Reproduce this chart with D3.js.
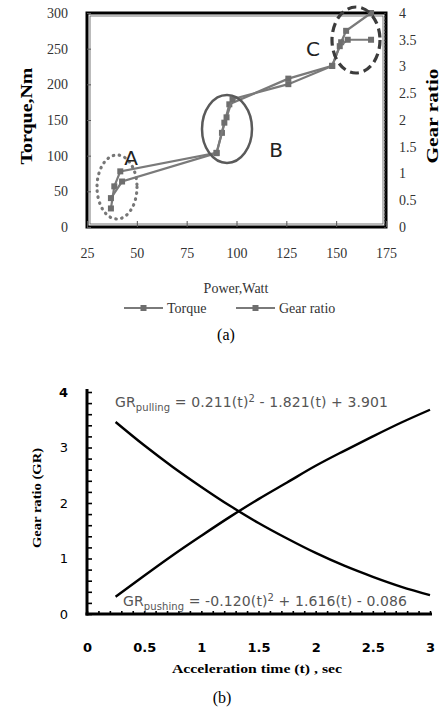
<!DOCTYPE html>
<html>
<head>
<meta charset="utf-8">
<title>Torque and gear ratio</title>
<script src="https://d3js.org/d3.v7.min.js"></script>
<style>
  body { margin: 0; background: #fff; }
  svg { display: block; }
  .serif { font-family: "Liberation Serif", "DejaVu Serif", serif; }
  .sans { font-family: "DejaVu Sans", Verdana, sans-serif; }
  .domain { display: none; }
</style>
</head>
<body>
<div id="chart"></div>
<script>
// ---- chart (a) : torque / gear ratio vs power ----
var torquePower = [37, 38.7, 41.7, 90, 92.7, 96.4, 126, 148, 152.5, 155, 167.5];
var torqueNm    = [26, 57, 78, 104, 132, 172, 208, 226, 259, 275, 300];
var gearPower   = [37, 42.6, 90, 93.9, 95, 98, 126, 148, 151.8, 155.8, 167.5];
var gearRatio   = [0.54, 0.85, 1.38, 1.95, 2.05, 2.39, 2.67, 3.01, 3.38, 3.5, 3.5];
var powerTicks  = [25, 50, 75, 100, 125, 150, 175];
var torqueTicks = [0, 50, 100, 150, 200, 250, 300];
var ratioTicks  = [0, 0.5, 1, 1.5, 2, 2.5, 3, 3.5, 4];

// ---- chart (b) : gear ratio vs acceleration time ----
var accelTime = [0.25, 0.5, 0.75, 1, 1.25, 1.5, 1.75, 2, 2.25, 2.5, 2.75, 3];
var grPulling = [3.46, 3.04, 2.65, 2.29, 1.95, 1.64, 1.36, 1.10, 0.87, 0.67, 0.49, 0.34];
var grPushing = [0.31, 0.69, 1.06, 1.41, 1.75, 2.07, 2.37, 2.67, 2.94, 3.20, 3.45, 3.68];
var timeTicks = [0, 0.5, 1, 1.5, 2, 2.5, 3];
var grTicks   = [0, 1, 2, 3, 4];

var plain = function(d) { return String(d); };

var svg = d3.select("#chart").append("svg")
  .attr("width", 444).attr("height", 717)
  .style("background", "#fff");

/* ================= (a) ================= */
var a = { left: 87, right: 386, top: 13, bottom: 227 };
var xP = d3.scaleLinear().domain([25, 175]).range([a.left, a.right]);
var yT = d3.scaleLinear().domain([0, 300]).range([a.bottom, a.top]);
var yG = d3.scaleLinear().domain([0, 4]).range([a.bottom, a.top]);

var ga = svg.append("g");

// frame (double line look)
ga.append("rect")
  .attr("x", a.left).attr("y", a.top)
  .attr("width", a.right - a.left).attr("height", a.bottom - a.top)
  .attr("fill", "none").attr("stroke", "#000").attr("stroke-width", 3);
ga.append("rect")
  .attr("x", a.left + 3).attr("y", a.top + 3)
  .attr("width", a.right - a.left - 6).attr("height", a.bottom - a.top - 6)
  .attr("fill", "none").attr("stroke", "#555").attr("stroke-width", 0.8);

// inner ticks
ga.append("g").attr("transform", "translate(" + a.left + ",0)")
  .call(d3.axisLeft(yT).tickValues(torqueTicks).tickSize(-4).tickFormat(""))
  .selectAll("line").attr("stroke", "#555");
ga.append("g").attr("transform", "translate(0," + a.bottom + ")")
  .call(d3.axisBottom(xP).tickValues(powerTicks).tickSize(-6).tickFormat(""))
  .selectAll("line").attr("stroke", "#555");
ga.append("g").attr("transform", "translate(" + a.right + ",0)")
  .call(d3.axisRight(yG).tickValues(d3.range(0, 4.001, 1 / 16)).tickSize(-2).tickFormat(""))
  .selectAll("line").attr("stroke", "#333");

// labels
var la = ga.append("g").attr("transform", "translate(" + a.left + ",0)")
  .call(d3.axisLeft(yT).tickValues(torqueTicks).tickSize(0).tickPadding(19).tickFormat(plain));
var ra = ga.append("g").attr("transform", "translate(" + a.right + ",0)")
  .call(d3.axisRight(yG).tickValues(ratioTicks).tickSize(0).tickPadding(13).tickFormat(plain));
var ba = ga.append("g").attr("transform", "translate(0," + a.bottom + ")")
  .call(d3.axisBottom(xP).tickValues(powerTicks).tickSize(0).tickPadding(21).tickFormat(plain));
[la, ra, ba].forEach(function(g) {
  g.selectAll("text").attr("class", "serif")
    .style("font-size", "14px").attr("fill", "#333");
});

// series
var gray = "#7a7a7a";
var lineA = d3.line().x(function(d) { return d[0]; }).y(function(d) { return d[1]; });
var tPts = torquePower.map(function(p, i) { return [xP(p), yT(torqueNm[i])]; });
var gPts = gearPower.map(function(p, i) { return [xP(p), yG(gearRatio[i])]; });
[tPts, gPts].forEach(function(pts) {
  ga.append("path").attr("d", lineA(pts))
    .attr("fill", "none").attr("stroke", gray).attr("stroke-width", 2.2);
  ga.selectAll(null).data(pts).enter().append("rect")
    .attr("x", function(d) { return d[0] - 3; })
    .attr("y", function(d) { return d[1] - 3; })
    .attr("width", 6).attr("height", 6)
    .attr("fill", "#6e6e6e");
});

// marked regions
ga.append("ellipse").attr("cx", 117).attr("cy", 187).attr("rx", 20).attr("ry", 32)
  .attr("fill", "none").attr("stroke", "#777").attr("stroke-width", 3.2)
  .attr("stroke-linecap", "round").attr("stroke-dasharray", "0.5,5.5");
ga.append("ellipse").attr("cx", 227).attr("cy", 129).attr("rx", 25).attr("ry", 34)
  .attr("fill", "none").attr("stroke", "#5a5a5a").attr("stroke-width", 2.5);
ga.append("ellipse").attr("cx", 356).attr("cy", 40).attr("rx", 24).attr("ry", 33)
  .attr("fill", "none").attr("stroke", "#3c3c3c").attr("stroke-width", 3.2)
  .attr("stroke-dasharray", "9,5");
[["A", 131, 165], ["B", 276, 157], ["C", 313, 56]].forEach(function(t) {
  ga.append("text").attr("class", "sans").attr("x", t[1]).attr("y", t[2])
    .attr("text-anchor", "middle").style("font-size", "20px").attr("fill", "#222")
    .text(t[0]);
});

// axis titles
ga.append("text").attr("class", "serif")
  .attr("transform", "translate(32,116) rotate(-90)")
  .attr("text-anchor", "middle").style("font-size", "17px").style("font-weight", "bold")
  .attr("textLength", 97).attr("lengthAdjust", "spacingAndGlyphs")
  .text("Torque,Nm");
ga.append("text").attr("class", "serif")
  .attr("transform", "translate(438,116) rotate(-90)")
  .attr("text-anchor", "middle").style("font-size", "17px").style("font-weight", "bold")
  .attr("textLength", 95).attr("lengthAdjust", "spacingAndGlyphs")
  .text("Gear ratio");
ga.append("text").attr("class", "serif").attr("x", 236).attr("y", 293)
  .attr("text-anchor", "middle").style("font-size", "14px").attr("fill", "#333")
  .text("Power,Watt");

// legend
[["Torque", 124], ["Gear ratio", 236]].forEach(function(l) {
  ga.append("line").attr("x1", l[1]).attr("x2", l[1] + 39)
    .attr("y1", 308).attr("y2", 308).attr("stroke", gray).attr("stroke-width", 2);
  ga.append("rect").attr("x", l[1] + 16.5).attr("y", 305).attr("width", 6).attr("height", 6)
    .attr("fill", "#6e6e6e");
  ga.append("text").attr("class", "serif").attr("x", l[1] + 43).attr("y", 313)
    .style("font-size", "14px").attr("fill", "#333").text(l[0]);
});

ga.append("text").attr("class", "serif").attr("x", 226).attr("y", 340)
  .attr("text-anchor", "middle").style("font-size", "16px").text("(a)");

/* ================= (b) ================= */
var b = { left: 87, right: 430, top: 389, bottom: 614 };
var xt = d3.scaleLinear().domain([0, 3]).range([b.left, b.right]);
var yr = d3.scaleLinear().domain([0, 4]).range([b.bottom, 392]);

var gb = svg.append("g");

// minor ticks
gb.append("g").attr("transform", "translate(" + b.left + ",0)")
  .call(d3.axisLeft(yr).tickValues(d3.range(0, 4.001, 0.2)).tickSize(-5).tickFormat(""))
  .selectAll("line").attr("stroke", "#000").attr("stroke-width", 1.6);
gb.append("g").attr("transform", "translate(0," + b.bottom + ")")
  .call(d3.axisBottom(xt).tickValues(d3.range(0, 3.001, 0.1)).tickSize(-3).tickFormat(""))
  .selectAll("line").attr("stroke", "#000").attr("stroke-width", 1.6);

// axis lines
gb.append("line").attr("x1", b.left).attr("x2", b.left).attr("y1", b.top).attr("y2", b.bottom + 1.5)
  .attr("stroke", "#000").attr("stroke-width", 3);
gb.append("line").attr("x1", b.left - 1.5).attr("x2", b.right + 2).attr("y1", b.bottom).attr("y2", b.bottom)
  .attr("stroke", "#000").attr("stroke-width", 3);

// tick labels
var lb = gb.append("g").attr("transform", "translate(" + b.left + ",0)")
  .call(d3.axisLeft(yr).tickValues(grTicks).tickSize(0).tickPadding(19).tickFormat(plain));
lb.selectAll("text").attr("class", "sans").style("font-size", "13px")
  .style("font-weight", function(d) { return d === 4 ? "bold" : "normal"; });
var bb = gb.append("g").attr("transform", "translate(0," + b.bottom + ")")
  .call(d3.axisBottom(xt).tickValues(timeTicks).tickSize(0).tickPadding(29).tickFormat(plain));
bb.selectAll("text").attr("class", "sans").style("font-size", "13px").style("font-weight", "bold");

// curves
var lineB = d3.line().curve(d3.curveMonotoneX)
  .x(function(d) { return xt(d[0]); }).y(function(d) { return yr(d[1]); });
[grPulling, grPushing].forEach(function(s) {
  gb.append("path").attr("d", lineB(accelTime.map(function(t, i) { return [t, s[i]]; })))
    .attr("fill", "none").attr("stroke", "#000").attr("stroke-width", 2.4);
});

// equations
function equation(x, y, len, sub, rest) {
  var t = gb.append("text").attr("class", "sans").attr("x", x).attr("y", y)
    .style("font-size", "14px").attr("fill", "#555")
    .attr("textLength", len).attr("lengthAdjust", "spacing");
  t.append("tspan").text("GR");
  t.append("tspan").attr("dy", 4).style("font-size", "10px").text(sub);
  t.append("tspan").attr("dy", -4).text(rest[0]);
  t.append("tspan").attr("dy", -5).style("font-size", "10px").text("2");
  t.append("tspan").attr("dy", 5).text(rest[1]);
}
equation(115, 407, 273, "pulling", [" = 0.211(t)", " - 1.821(t) + 3.901"]);
equation(123, 606, 284, "pushing", [" = -0.120(t)", " + 1.616(t) - 0.086"]);

// titles
gb.append("text").attr("class", "serif")
  .attr("transform", "translate(41,498) rotate(-90)")
  .attr("text-anchor", "middle").style("font-size", "13px").style("font-weight", "bold")
  .attr("textLength", 100).attr("lengthAdjust", "spacingAndGlyphs")
  .text("Gear ratio (GR)");
gb.append("text").attr("class", "serif").attr("x", 257).attr("y", 673)
  .attr("text-anchor", "middle").style("font-size", "13px").style("font-weight", "bold")
  .attr("textLength", 170).attr("lengthAdjust", "spacingAndGlyphs")
  .text("Acceleration time (t) , sec");

gb.append("text").attr("class", "serif").attr("x", 222).attr("y", 703)
  .attr("text-anchor", "middle").style("font-size", "16px").text("(b)");
</script>
</body>
</html>
